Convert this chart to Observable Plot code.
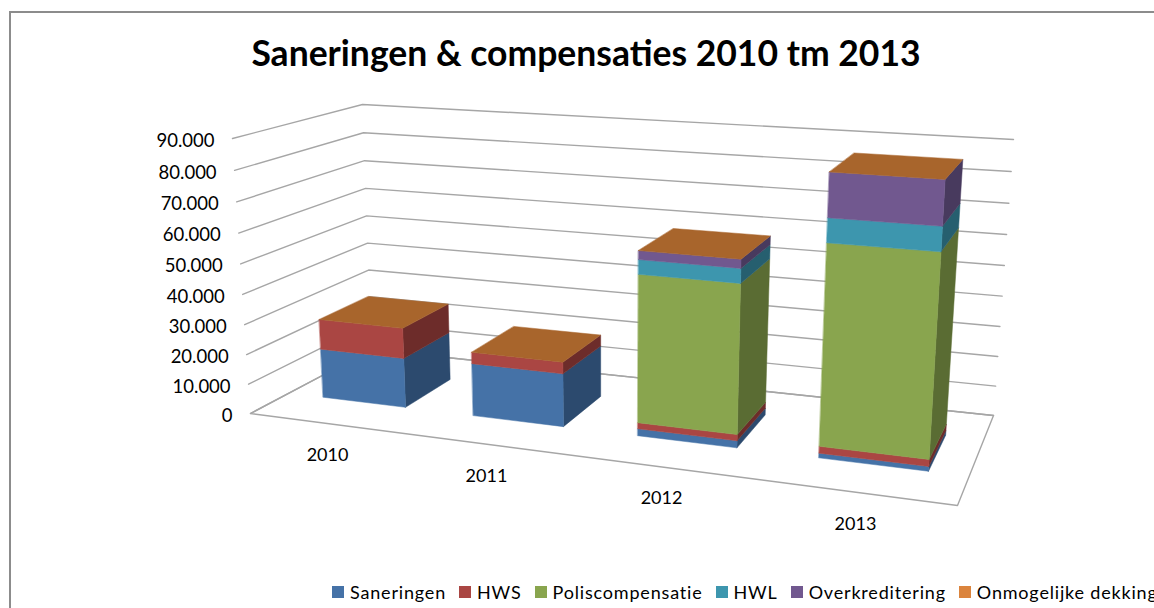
<!DOCTYPE html>
<html><head><meta charset="utf-8">
<script src="https://cdn.jsdelivr.net/npm/d3@7"></script>
<script src="https://cdn.jsdelivr.net/npm/@observablehq/plot@0.6"></script>
<style>
html,body{margin:0;padding:0;background:#fff;overflow:hidden}
#chart{position:relative;width:1154px;height:608px;overflow:hidden;font-family:Lato,sans-serif;color:#000}
#frame{position:absolute;left:9px;top:11px;right:-10px;bottom:-10px;border:2px solid #8c8c8c}
#title{position:absolute;left:0;top:30px;width:1172px;text-align:center;font-size:35.5px;font-weight:700;line-height:46px;white-space:nowrap}
#plot{position:absolute;left:0;top:90px}
#plot svg{display:block;background:transparent}
#legend{position:absolute;left:332px;top:579px;display:flex;white-space:nowrap;font-size:18px;line-height:26px;letter-spacing:.82px}
#legend div{display:flex;align-items:center;margin-right:13px}
#legend i{display:block;width:12px;height:12px;margin-right:6px}
</style></head><body>
<div id="chart"><div id="frame"></div><div id="title">Saneringen &amp; compensaties 2010 tm 2013</div><div id="plot"></div><div id="legend"></div></div>
<script>
const years = ["2010","2011","2012","2013"];
const seriesNames = ["Saneringen","HWS","Poliscompensatie","HWL","Overkreditering","Onmogelijke dekking"];
const saneringen = [16800,17600,2300,1500];
const hws = [10200,3800,2000,2200];
const polis = [0,0,47700,62700];
const hwl = [0,0,4600,7400];
const overkreditering = [0,0,2800,13400];
const onmogelijk = [0,0,0,0];
const seriesValues = [saneringen,hws,polis,hwl,overkreditering,onmogelijk];
const frontColors = ["#4572a7","#aa4643","#89a54e","#3d96ae","#71588f","#db843d"];
const sideColors = ["#2c4a6e","#6d2c2a","#5a6c33","#265f6f","#483a5e","#8f5627"];
const topColor = "#a8652c";
const ticks = [0,10000,20000,30000,40000,50000,60000,70000,80000,90000];
const maxValue = 90000;

// layout of the 3D box: picture positions of its corners, as a projective camera
const floorQuad = [[250,413],[957,505],[993,415],[371,349]]; // front-left, front-right, back-right, back-left
const ceilFL=[232,138], ceilBR=[1013,139], ceilBL=[362,104];
const verticalConvergence = -0.046;
const barFrac = 0.56, bandShift = 0.005, depthFront = 0.29, depthBack = 0.70;

function camera(q){
  const [[x0,y0],[x1,y1],[x2,y2],[x3,y3]] = q;
  const dx1=x1-x2,dx2=x3-x2,sx=x0-x1+x2-x3,dy1=y1-y2,dy2=y3-y2,sy=y0-y1+y2-y3;
  const den=dx1*dy2-dx2*dy1;
  const g=(sx*dy2-dx2*sy)/den,h=(dx1*sy-sx*dy1)/den;
  const a=x1-x0+g*x1,b=x3-x0+h*x3,d=y1-y0+g*y1,e=y3-y0+h*y3;
  const i=verticalConvergence;
  // ceiling numerators, affine in (u,w), sharing the floor's denominator
  const K=(u,w)=>g*u+h*w+1;
  const nFL=ceilFL.map(c=>c*(K(0,0)+i)), nBL=ceilBL.map(c=>c*(K(0,1)+i)), nBR=ceilBR.map(c=>c*(K(1,1)+i));
  const ceilN=(u,w,n)=>nFL[n]+u*(nBR[n]-nBL[n])+w*(nBL[n]-nFL[n]);
  return (u,t,w)=>{
    const fx=a*u+b*w+x0, fy=d*u+e*w+y0, k=K(u,w)+i*t;
    return {x:(fx+t*(ceilN(u,w,0)-fx))/k, y:(fy+t*(ceilN(u,w,1)-fy))/k};
  };
}
const cam=camera(floorQuad);
const project=(u,value,w)=>cam(u,value/maxValue,w);
// scene rows
const gridRows=[];
ticks.forEach(t=>{[[0,0],[0,1],[1,1]].forEach(([u,w])=>gridRows.push({tick:t,...project(u,t,w)}));});
const floorRows=[[0,0],[1,0],[1,1],[0,1],[0,0]].map(([u,w])=>project(u,0,w));
const faceRows=[];
function face(id,color,pts){pts.forEach(p=>faceRows.push({id,color,...p}));}
years.forEach((yr,i)=>{
  const band=1/years.length, u0=(i+(1-barFrac)/2)*band+bandShift, u1=(i+1-(1-barFrac)/2)*band+bandShift;
  let base=0;
  seriesValues.forEach((vals,s)=>{
    const v=vals[i], top=base+v;
    if(v>0){
      face(`${yr}-${s}-side`,sideColors[s],[project(u1,base,depthFront),project(u1,base,depthBack),project(u1,top,depthBack),project(u1,top,depthFront)]);
      face(`${yr}-${s}-front`,frontColors[s],[project(u0,base,depthFront),project(u1,base,depthFront),project(u1,top,depthFront),project(u0,top,depthFront)]);
    }
    base=top;
  });
  face(`${yr}-top`,topColor,[project(u0,base,depthFront),project(u1,base,depthFront),project(u1,base,depthBack),project(u0,base,depthBack)]);
});
const fmt=d3.formatLocale({decimal:",",thousands:".",grouping:[3],currency:["€",""]}).format(",d");
const tickRows=ticks.map(t=>({label:fmt(t),...project(0,t,0)}));
const yearRows=years.map((yr,i)=>({label:yr,...project((i+.5)/years.length,0,0)}));

const plot=Plot.plot({
  width:1154,height:480,margin:0,
  x:{type:"linear",domain:[0,1154],range:[0,1154],axis:null},
  y:{type:"linear",domain:[90,570],range:[0,480],axis:null},
  color:{type:"identity"},
  marks:[
    Plot.line(gridRows,{x:"x",y:"y",z:"tick",stroke:"#a6a6a6",strokeWidth:1.4}),
    Plot.line(floorRows,{x:"x",y:"y",stroke:"#a6a6a6",strokeWidth:1.4}),
    Plot.line(faceRows,{x:"x",y:"y",z:"id",fill:"color",stroke:"color",strokeWidth:.5,curve:"linear-closed"}),
    Plot.text(tickRows,{x:"x",y:"y",text:"label",textAnchor:"end",dx:-18,dy:2.5,fontSize:18.5,fontFamily:"Lato",fill:"#000",style:"letter-spacing:1.5px"}),
    Plot.text(yearRows,{x:"x",y:"y",text:"label",dx:3,dy:32,fontSize:18,fontFamily:"Lato",fill:"#000"})
  ]
});
document.getElementById("plot").append(plot);
const lg=d3.select("#legend").selectAll("div").data(seriesNames).join("div");
lg.append("i").style("background",(d,i)=>frontColors[i]);
lg.append("span").text(d=>d);
</script>
</body></html>
